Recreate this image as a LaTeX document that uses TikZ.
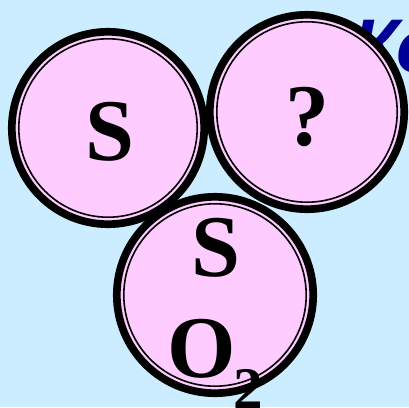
\documentclass[tikz,border=0pt]{standalone}
\usepackage{fontspec}
\setmainfont{Liberation Serif}
\newfontfamily\headfont{Liberation Sans}
\definecolor{bgblue}{HTML}{CCECFF}
\definecolor{ballpink}{HTML}{FFCCFF}
\definecolor{headblue}{HTML}{000099}
\tikzset{
  ball/.style={fill=ballpink, draw=black, line width=7.7pt},
  ballinner/.style={draw=black, line width=1.6pt},
  bigletter/.style={font=\fontsize{88}{88}\selectfont\bfseries, inner sep=0pt, anchor=base},
  subletter/.style={font=\fontsize{59}{59}\selectfont\bfseries, inner sep=0pt, anchor=base}
}
\begin{document}
\begin{tikzpicture}[x=1pt,y=-1pt]
\useasboundingbox (0,0) rectangle (409,407);
\fill[bgblue] (0,0) rectangle (409,407);
\begin{scope}
\clip (0,0) rectangle (409,407);
\node[font=\headfont\fontsize{76}{76}\selectfont\bfseries\itshape, text=headblue, inner sep=0pt, anchor=base west] (head) at (352,72) {Ко};
% left ball
\coordinate (cl) at (108,128);
\draw[ball] (cl) circle[radius=96.2];
\draw[ballinner] (cl) circle[radius=89.2];
% right ball
\coordinate (cr) at (307,112);
\draw[ball] (cr) circle[radius=97.2];
\draw[ballinner] (cr) circle[radius=90.2];
% bottom ball
\coordinate (cb) at (215,295);
\draw[ball] (cb) circle[radius=98.2];
\draw[ballinner] (cb) circle[radius=91.2];
\node[bigletter] (s1) at (110,160) {S};
\node[bigletter] (q) at (307,145) {?};
\node[bigletter] (s2) at (216,276) {S};
\node[bigletter] (o) at (202,377) {O};
\node[subletter] (two) at (248,408) {2};
\end{scope}
\end{tikzpicture}
\end{document}
